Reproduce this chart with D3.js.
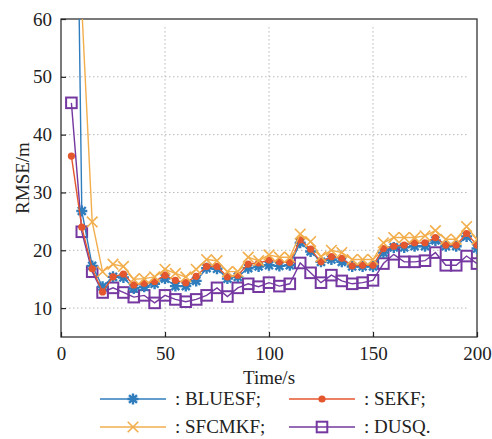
<!DOCTYPE html>
<html><head><meta charset="utf-8">
<script src="https://cdn.jsdelivr.net/npm/d3@7"></script>
<style>body{margin:0;background:#fff;} svg{display:block;} text{font-family:"Liberation Serif","Times New Roman","Nimbus Roman","DejaVu Serif",serif !important;}</style>
</head><body>
<svg id="c" width="492" height="439"></svg>
<script>
const times = [5,10,15,20,25,30,35,40,45,50,55,60,65,70,75,80,85,90,95,100,105,110,115,120,125,130,135,140,145,150,155,160,165,170,175,180,185,190,195,200];
const bluesf = [160,26.8,17.3,13.7,15.4,15.3,13.4,13.7,14.2,15.1,13.8,13.8,14.7,16.9,16.8,15.1,15.4,16.9,17.2,17.4,17.3,17.4,21.3,19.8,18.0,18.4,18.0,17.2,17.2,17.2,19.6,20.5,20.5,20.7,20.7,21.7,20.7,20.7,22.4,20.3];
const sekf = [36.3,24.0,16.8,12.8,15.4,15.9,14.0,14.3,14.6,15.7,14.8,14.4,15.5,17.2,17.2,15.4,15.7,17.6,17.8,18.3,18.0,17.9,21.8,20.2,18.0,18.9,18.6,17.3,17.4,17.4,20.3,20.7,20.9,21.3,21.3,22.2,20.9,20.9,22.9,20.9];
const sfcmkf = [200,62,24.9,16.3,17.6,17.2,15.0,15.1,15.4,16.7,16.0,15.4,16.7,18.4,18.2,16.3,16.3,18.8,18.2,19.2,18.8,18.8,22.8,21.5,18.9,20.0,19.6,18.4,18.4,18.4,21.3,22.2,22.2,22.2,22.5,23.4,21.9,21.9,24.1,21.9];
const dusq = [45.5,23.2,16.3,12.7,13.5,12.7,11.9,12.2,10.9,12.2,11.5,11.1,11.5,12.2,13.5,12.0,13.5,14.2,13.7,14.4,13.8,14.2,17.8,16.1,14.4,15.7,14.7,14.2,14.4,14.8,17.7,19.3,18.0,18.0,18.2,19.6,17.4,17.4,19.0,17.7];
const xTicks = [0,50,100,150,200];
const yTicks = [10,20,30,40,50,60];
const seriesNames = [": BLUESF;", ": SEKF;", ": SFCMKF;", ": DUSQ."];
const colors = ["#2f7dbd", "#e4572e", "#f2ae4c", "#7438a0"];
const markers = ["star", "dot", "x", "square"];

const svg = d3.select("#c");
const L = 61, R = 477, T = 19, B = 337;
const x = d3.scaleLinear().domain([0,200]).range([L,R]);
const y = d3.scaleLinear().domain([5,60]).range([B,T]);
const font = "Liberation Serif";

svg.append("defs").append("clipPath").attr("id","clip")
  .append("rect").attr("x",L).attr("y",T).attr("width",R-L).attr("height",B-T);

// grid
const grid = svg.append("g").attr("stroke","#b8b8b8").attr("stroke-width",1).attr("stroke-dasharray","1.5,2.5");
yTicks.filter(v=>v<60).forEach(v=>{
  grid.append("line").attr("x1",L).attr("x2",x(196)).attr("y1",y(v)).attr("y2",y(v));
});
xTicks.filter(v=>v>0&&v<200).forEach(v=>{
  grid.append("line").attr("x1",x(v)).attr("x2",x(v)).attr("y1",y(58.6)).attr("y2",B);
});

// frame
svg.append("rect").attr("x",L).attr("y",T).attr("width",R-L).attr("height",B-T)
  .attr("fill","none").attr("stroke","#333").attr("stroke-width",1.3);

// axes
const xAxis = d3.axisBottom(x).tickValues(xTicks).tickSize(-5).tickPadding(9).tickFormat(d3.format("d"));
const gx = svg.append("g").attr("transform",`translate(0,${B})`).call(xAxis);
const yAxis = d3.axisLeft(y).tickValues(yTicks).tickSize(-5).tickPadding(9).tickFormat(d3.format("d"));
const gy = svg.append("g").attr("transform",`translate(${L},0)`).call(yAxis);
[gx,gy].forEach(g=>{
  g.attr("font-family",null);
  g.select(".domain").remove();
  g.selectAll(".tick line").attr("stroke","#222").attr("stroke-width",1.2);
  g.selectAll(".tick text").attr("font-size",19).attr("fill","#222");
});
gx.selectAll(".tick text").attr("dy","0.75em");

svg.append("text").attr("x",(L+R)/2).attr("y",384).attr("text-anchor","middle")
  .attr("font-size",19).attr("fill","#222").text("Time/s");
svg.append("text").attr("transform",`translate(29,${(T+B)/2}) rotate(-90)`).attr("text-anchor","middle")
  .attr("font-size",19).attr("fill","#222").text("RMSE/m");

function drawMarker(g, type, cx, cy, color){
  if(type==="star"){
    const r=5.5, d=r*0.72;
    const p = `M${cx-r},${cy}L${cx+r},${cy}M${cx},${cy-r}L${cx},${cy+r}M${cx-d},${cy-d}L${cx+d},${cy+d}M${cx-d},${cy+d}L${cx+d},${cy-d}`;
    g.append("path").attr("d",p).attr("stroke",color).attr("stroke-width",2.4).attr("fill","none");
  } else if(type==="dot"){
    g.append("circle").attr("cx",cx).attr("cy",cy).attr("r",3.6).attr("fill",color);
  } else if(type==="x"){
    const r=5.3;
    g.append("path").attr("d",`M${cx-r},${cy-r}L${cx+r},${cy+r}M${cx-r},${cy+r}L${cx+r},${cy-r}`)
      .attr("stroke",color).attr("stroke-width",1.6).attr("fill","none");
  } else {
    const r=5.3;
    g.append("rect").attr("x",cx-r).attr("y",cy-r).attr("width",2*r).attr("height",2*r)
      .attr("stroke",color).attr("stroke-width",2).attr("fill","none");
  }
}

const allSeries = [bluesf, sekf, sfcmkf, dusq];
const order = [3,0,1,2];
const plot = svg.append("g").attr("clip-path","url(#clip)");
const line = d3.line().x((d,i)=>x(times[i])).y(d=>y(d));
order.forEach(si=>{
  const vals = allSeries[si];
  const g = plot.append("g");
  g.append("path").datum(vals).attr("d",line).attr("fill","none")
    .attr("stroke",colors[si]).attr("stroke-width",1.4);
  vals.forEach((v,i)=>{
    if(v<=60) drawMarker(g, markers[si], x(times[i]), y(v), colors[si]);
  });
});

// legend
const legPos = [[100,399],[289,399],[100,427],[289,427]];
seriesNames.forEach((name,i)=>{
  const [lx,ly] = legPos[i];
  const g = svg.append("g");
  g.append("line").attr("x1",lx).attr("x2",lx+66).attr("y1",ly).attr("y2",ly)
    .attr("stroke",colors[i]).attr("stroke-width",1.6);
  drawMarker(g, markers[i], lx+33, ly, colors[i]);
  g.append("text").attr("x",lx+75).attr("y",ly+6).attr("font-size",19)
    .attr("fill","#222").text(name);
});
</script>
</body></html>
